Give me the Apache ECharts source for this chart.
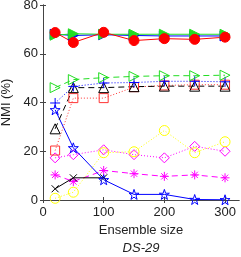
<!DOCTYPE html>
<html><head><meta charset="utf-8">
<script src="https://cdn.jsdelivr.net/npm/echarts@6/dist/echarts.min.js"></script>
<style>html,body{margin:0;padding:0;background:#fff}#c{width:241px;height:257px}</style>
</head><body><div id="c"></div>
<script>
const ensembleSizes = [20, 50, 100, 150, 200, 250, 300];
const xTicks = [0, 100, 200, 300];
const yTicks = [0, 20, 40, 60, 80];
const greenFilledTri = [67.6, 68.2, 68.0, 68.0, 68.0, 68.0, 68.0];
const blueFilledTri = [68.0, 67.5, 67.8, 67.5, 67.3, 67.3, 67.3];
const redCircle = [68.7, 64.6, 68.8, 65.4, 66.2, 65.9, 66.8];
const greenOpenTri = [46.1, 49.4, 50.2, 50.7, 51.0, 51.0, 51.2];
const bluePlus = [39.8, 46.6, 48.0, 48.2, 48.7, 48.7, 48.5];
const blackTri = [29.2, 46.1, 46.1, 46.5, 46.7, 46.7, 46.7];
const redSquare = [20.3, 41.8, 41.8, 46.3, 47.0, 47.3, 47.3];
const blueStar = [37.0, 21.4, 8.3, 2.3, 2.3, 0.2, 0.1];
const blackX = [4.6, 9.1, 9.1, null, null, null, null];
const yellowCircle = [0.7, 3.2, 19.4, 19.8, 28.5, 19.4, 23.9];
const magentaDiamond = [17.3, 18.6, 20.6, 18.6, 17.3, 22.0, 20.0];
const magentaAsterisk = [10.3, 7.6, 12.1, 10.8, 9.7, 10.3, 9.1];

const SYM = {
  rtri: 'path://M0,0L10,5L0,10Z',
  plus: 'path://M5,0L5,10M0,5L10,5',
  cross: 'path://M0,0L10,10M0,10L10,0',
  star: 'path://M50,0L61.8,35.1L97.6,34.5L68.8,56.9L79.4,90.5L50,70L20.6,90.5L31.2,56.9L2.4,34.5L38.2,35.1Z',
  aster: 'path://M5,0L5,10M0,5L10,5M1.5,1.5L8.5,8.5M1.5,8.5L8.5,1.5'
};
function mk(data, color, symbol, size, lineType, filled) {
  return {
    type: 'line',
    data: ensembleSizes.map((x, i) => [x, data[i]]),
    symbol: symbol,
    symbolSize: size,
    showAllSymbol: true,
    connectNulls: false,
    lineStyle: { color: color, width: 1, type: lineType },
    itemStyle: filled ? { color: color, borderColor: color, borderWidth: 1 }
                      : { color: 'rgba(0,0,0,0)', borderColor: color, borderWidth: 1 },
    emphasis: { disabled: true },
    animation: false
  };
}
const G = '#22dd22';
const series = [
  mk(magentaAsterisk, '#ff00ff', SYM.aster, 9, [6, 4], false),
  mk(magentaDiamond, '#ff00ff', 'diamond', 10, [1, 2], false),
  mk(yellowCircle, '#ffff00', 'circle', 10, [1, 2], false),
  mk(blackX, '#000000', SYM.cross, 7, 'solid', false),
  mk(blueStar, '#0000ff', SYM.star, 10, 'solid', false),
  mk(redSquare, '#ff3333', 'rect', 9, [1, 2], false),
  mk(blackTri, '#000000', 'triangle', 10, [6, 4], false),
  mk(bluePlus, '#0000ff', SYM.plus, 10, [1, 2], false),
  mk(greenOpenTri, G, SYM.rtri, 10, [6, 4], false),
  mk(blueFilledTri, '#0000ff', SYM.rtri, 10, 'solid', true),
  mk(greenFilledTri, G, SYM.rtri, 10, 'solid', true),
  mk(redCircle, '#ff0000', 'circle', 10, 'solid', true)
];
const lineS = { show: true, lineStyle: { color: '#444', width: 1 } };
const tickS = (vals) => ({ show: true, inside: true, length: 3, lineStyle: { color: '#444' }, customValues: vals });
const font = { fontFamily: 'Liberation Sans', fontSize: 13, color: '#222' };
const chart = echarts.init(document.getElementById('c'), null, { renderer: 'canvas' });
chart.setOption({
  animation: false,
  grid: { left: 43, right: 2, top: 5, bottom: 57, containLabel: false, outerBoundsMode: 'none' },
  xAxis: [
    {
      type: 'value', min: 0, max: 323,
      name: 'Ensemble size', nameLocation: 'middle', nameGap: 24,
      nameTextStyle: font,
      axisLine: lineS, splitLine: { show: false },
      axisLabel: Object.assign({ margin: 6, customValues: xTicks, hideOverlap: false }, font),
      axisTick: tickS(xTicks)
    },
    {
      type: 'value', min: 0, max: 323, position: 'top',
      axisLine: lineS, splitLine: { show: false },
      axisLabel: { show: false },
      axisTick: tickS(xTicks)
    }
  ],
  yAxis: [
    {
      type: 'value', min: 0, max: 80,
      name: 'NMI (%)', nameLocation: 'middle', nameGap: 24,
      nameTextStyle: font,
      axisLine: lineS, splitLine: { show: false },
      axisLabel: Object.assign({ margin: 5, customValues: yTicks }, font),
      axisTick: tickS(yTicks)
    },
    {
      type: 'value', min: 0, max: 80, position: 'right',
      axisLine: lineS, splitLine: { show: false },
      axisLabel: { show: false },
      axisTick: tickS(yTicks)
    }
  ],
  graphic: [{
    type: 'text', x: 141, y: 248,
    style: { text: 'DS-29', fontFamily: 'Liberation Sans', fontSize: 13, fontStyle: 'italic',
      fill: '#222', textAlign: 'center', textVerticalAlign: 'middle' }
  }],
  series: series
});
</script></body></html>
